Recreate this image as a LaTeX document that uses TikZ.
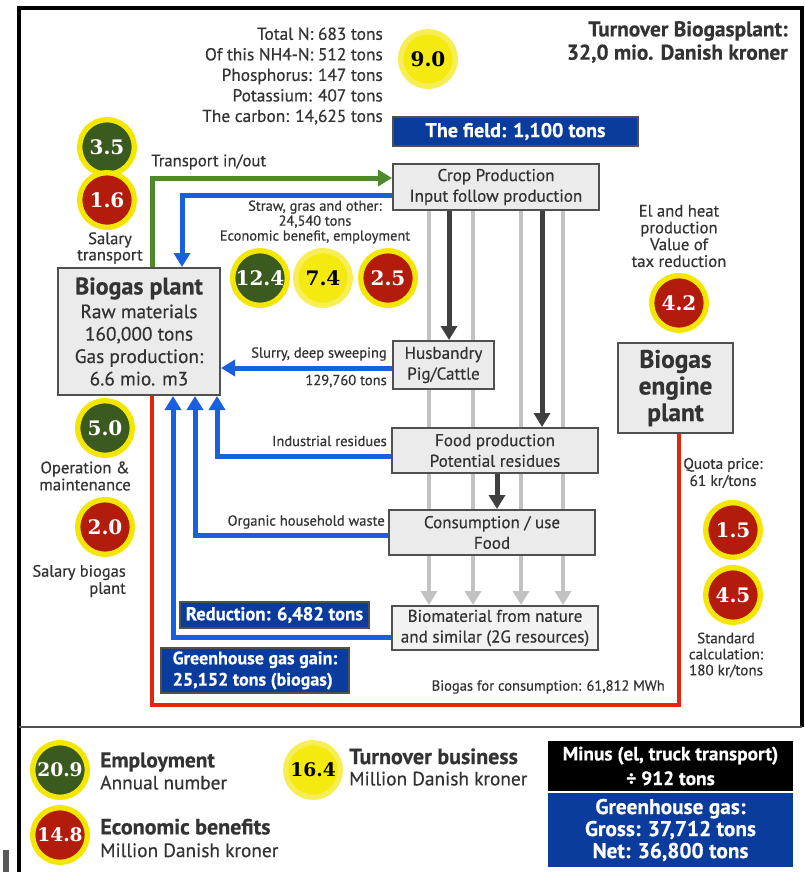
\documentclass[tikz,border=0pt]{standalone}
\usepackage{fontspec}
\setmainfont{PT Sans}[FakeBold=0.5]
\newfontfamily\numfont{DejaVu Serif}
\usetikzlibrary{arrows.meta}
\newcommand{\myfs}[2]{\fontsize{#1}{#2}\selectfont}
\definecolor{dgreen}{HTML}{3B5A20}
\definecolor{dred}{HTML}{B31B0C}
\definecolor{ring}{HTML}{F3E700}
\definecolor{yfill}{HTML}{F5EA10}
\definecolor{yring}{HTML}{F7EE55}
\definecolor{boxblue}{HTML}{0A3C9E}
\definecolor{arrblue}{HTML}{1A5FE0}
\definecolor{arrgreen}{HTML}{4E8A2C}
\definecolor{redline}{HTML}{E5260C}
\definecolor{boxgray}{HTML}{EBEBEB}
\definecolor{boxlight}{HTML}{F2F2F2}
\definecolor{boxedge}{HTML}{505050}
\definecolor{lgray}{HTML}{C2C2C2}
\definecolor{dgray}{HTML}{3F3F3F}
\definecolor{txt}{HTML}{333333}
\pgfdeclarelayer{bg}
\pgfsetlayers{bg,main}
\tikzset{
  every node/.style={text=txt, inner sep=0pt},
  circ/.style={circle, minimum size=41pt, line width=4pt, draw=ring, font=\numfont\bfseries\myfs{15}{15}},
  gc/.style={circ, fill=dgreen, text=white},
  rc/.style={circ, fill=dred, text=white},
  yc/.style={circ, fill=yfill, draw=yring, text=black},
  gbox/.style={draw=boxedge, line width=1.5pt, fill=boxgray, align=center, text=txt},
  bbox/.style={draw=boxedge, line width=1pt, fill=boxblue, text=white},
  blackbox/.style={fill=black, text=white, align=center},
  lbl/.style={text=txt},
  tipa/.style={-{Triangle[length=10.5pt,width=12pt]}},
  barrow/.style={draw=arrblue, line width=3.75pt, tipa},
  garrow/.style={draw=arrgreen, line width=3.75pt, tipa},
  darrow/.style={draw=dgray, line width=3.75pt, tipa},
  larrow/.style={draw=lgray, line width=3pt, tipa},
  rline/.style={draw=redline, line width=3pt},
}
\begin{document}
\begin{tikzpicture}[x=0.75pt, y=-0.75pt]
\useasboundingbox (0,0) rectangle (805,872);
% frame
\draw[line width=2.5pt, black] (19,872) -- (19,8) -- (802,8) -- (802,727);
\draw[line width=1.5pt, boxedge] (19,727) -- (802,727);
\fill[gray!70!black] (3,850) rectangle (9,872);

% top texts
\node[lbl, anchor=east, align=right, font=\bfseries\myfs{16}{17.5}] (turn) at (788,42) {Turnover Biogasplant:\\32,0 mio. Danish kroner};
\node[lbl, anchor=east, align=right, font=\myfs{13}{15.4}] (nutr) at (383,76) {Total N: 683 tons\\Of this NH4-N: 512 tons\\Phosphorus: 147 tons\\Potassium: 407 tons\\The carbon: 14,625 tons};
\node[yc] (c90) at (428,59) {9.0};
\node[bbox, minimum width=183.75pt, minimum height=21.75pt, font=\bfseries\myfs{15}{16}] (field) at (515.5,131.5) {The field: 1,100 tons};

% boxes
\node[gbox, minimum width=154.5pt, minimum height=34.5pt, font=\myfs{12.8}{15.5}] (crop) at (496,187) {Crop Production\\Input follow production};
\node[gbox, minimum width=121.5pt, minimum height=95.25pt, font=\myfs{14.5}{16.8}] (bp) at (139,331.5) {{\bfseries\myfs{18}{20}Biogas plant}\\[1pt]Raw materials\\160,000 tons\\Gas production:\\6.6 mio. m3};
\node[gbox, minimum width=75.75pt, minimum height=36pt, font=\myfs{12.8}{15.5}] (hus) at (443.5,365) {Husbandry\\Pig/Cattle};
\node[gbox, minimum width=154.5pt, minimum height=33.75pt, font=\myfs{12.8}{15.5}] (food) at (495,450.5) {Food production\\Potential residues};
\node[gbox, minimum width=154.5pt, minimum height=33.75pt, font=\myfs{12.8}{15.5}] (cons) at (492,532.5) {Consumption / use\\Food};
\node[gbox, fill=boxlight, minimum width=154.5pt, minimum height=33pt, font=\myfs{12.8}{15.5}] (bio) at (495,628) {Biomaterial from nature\\and similar (2G resources)};
\node[gbox, minimum width=86.25pt, minimum height=67.5pt, font=\bfseries\myfs{19}{20}] (engine) at (675.5,388) {Biogas\\engine\\plant};

% labels
\node[lbl, anchor=west, font=\myfs{12.5}{14}] (ltrans) at (151,162) {Transport in/out};
\node[lbl, align=center, font=\myfs{10.8}{11.2}] (lstraw) at (315,222) {Straw, gras and other:\\24,540 tons\\Economic benefit, employment};
\node[lbl, align=center, font=\myfs{12.5}{12.2}] (lsaltr) at (110,248) {Salary\\transport};
\node[lbl, anchor=east, font=\myfs{10.9}{12}] (lslur) at (387,354) {Slurry, deep sweeping};
\node[lbl, anchor=east, font=\myfs{10.9}{12}] (lslur2) at (387,381) {129,760 tons};
\node[lbl, anchor=east, font=\myfs{10.9}{12}] (lind) at (387,441) {Industrial residues};
\node[lbl, anchor=east, font=\myfs{10.9}{12}] (lorg) at (385,522) {Organic household waste};
\node[bbox, minimum width=141.75pt, minimum height=19.5pt, font=\bfseries\myfs{14}{14}] (redu) at (274.5,615) {Reduction: 6,482 tons};
\node[bbox, minimum width=141pt, minimum height=33.75pt, align=left, font=\bfseries\myfs{13.5}{16}] (ghg) at (255,670.5) {Greenhouse gas gain:\\25,152 tons (biogas)};
\node[lbl, anchor=east, font=\myfs{10.9}{11}] (lbc) at (665,687) {Biogas for consumption: 61,812 MWh};
\node[lbl, align=center, font=\myfs{12.5}{12.6}] (lel) at (679,236) {El and heat\\production\\Value of\\tax reduction};
\node[lbl, align=center, font=\myfs{11.5}{12.8}] (lquota) at (723,473) {Quota price:\\61 kr/tons};
\node[lbl, align=center, font=\myfs{11.3}{12}] (lstd) at (726,655) {Standard\\calculation:\\180 kr/tons};
\node[lbl, align=center, font=\myfs{12.5}{12.8}] (lop) at (85,476) {Operation \&\\maintenance};
\node[lbl, anchor=east, align=right, font=\myfs{12.3}{12.8}] (lsal) at (126,581) {Salary biogas\\plant};

% circles
\node[gc] (c35) at (107,147) {3.5};
\node[rc] (c16) at (107,200) {1.6};
\node[gc] (c124) at (260,278) {12.4};
\node[yc] (c74) at (323,278) {7.4};
\node[rc] (c25) at (388,278) {2.5};
\node[rc] (c42) at (679,303) {4.2};
\node[gc] (c50) at (105,428) {5.0};
\node[rc] (c20) at (105,527) {2.0};
\node[rc] (c15) at (733,530) {1.5};
\node[rc] (c45) at (733,595) {4.5};

% legend
\node[gc, font=\numfont\bfseries\myfs{14}{14}] (c209) at (60,770) {20.9};
\node[rc, font=\numfont\bfseries\myfs{14}{14}] (c148) at (60,835) {14.8};
\node[yc, font=\numfont\bfseries\myfs{14}{14}] (c164) at (313,770) {16.4};
\node[lbl, anchor=west, align=left, font=\myfs{14.5}{16.5}] (lemp) at (100,771) {{\bfseries\myfs{16}{16.5}Employment}\\Annual number};
\node[lbl, anchor=west, align=left, font=\myfs{14.5}{17}] (leco) at (100,838) {{\bfseries\myfs{16.5}{17}Economic benefits}\\Million Danish kroner};
\node[lbl, anchor=west, align=left, font=\myfs{14.5}{16}] (ltb) at (349,767) {{\bfseries\myfs{16.5}{16}Turnover business}\\Million Danish kroner};
\node[blackbox, minimum width=183.75pt, minimum height=37.5pt, font=\bfseries\myfs{14.5}{18.5}] (minus) at (670.5,766) {Minus (el, truck transport)\\÷ 912 tons};
\node[bbox, draw=none, align=center, minimum width=183.75pt, minimum height=55.5pt, font=\bfseries\myfs{16}{16.5}] (ghgt) at (670.5,830) {Greenhouse gas:\\Gross: 37,712 tons\\Net: 36,800 tons};

% connectors
\coordinate (gx) at (152,178);
\draw[garrow] (gx |- bp.north) -- (gx) -- (gx -| crop.west);
\coordinate (bx) at (182,195);
\draw[barrow] (bx -| crop.west) -- (bx) -- (bx |- bp.north);
\coordinate (sy) at (300,368);
\draw[barrow] (sy -| hus.west) -- (sy -| bp.east);
\coordinate (i1) at (217,456);
\draw[barrow] (i1 -| food.west) -- (i1) -- (i1 |- bp.south);
\coordinate (o1) at (195,535);
\draw[barrow] (o1 -| cons.west) -- (o1) -- (o1 |- bp.south);
\coordinate (m1) at (173,637);
\draw[barrow] (m1 -| bio.west) -- (m1) -- (m1 |- bp.south);
\coordinate (r1) at (152,705);
\coordinate (r2) at (679,705);
\draw[rline] (r1 |- bp.south) -- (r1) -- (r2) -- (r2 |- engine.south);
\coordinate (d1) at (449,0);
\coordinate (d2) at (542,0);
\coordinate (d3) at (497,0);
\draw[darrow] (d1 |- crop.south) -- (d1 |- hus.north);
\draw[darrow] (d2 |- crop.south) -- (d2 |- food.north);
\draw[darrow] (d3 |- food.south) -- (d3 |- cons.north);
\begin{pgfonlayer}{bg}
\foreach \gxx [count=\i] in {429,473,521,563} {
  \coordinate (gl\i) at (\gxx,0);
  \draw[larrow] (gl\i |- crop.south) -- (gl\i |- bio.north);
}
\end{pgfonlayer}
\end{tikzpicture}
\end{document}
